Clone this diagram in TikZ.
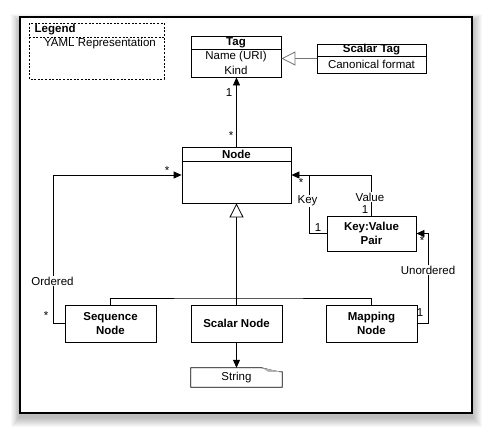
\documentclass[tikz,border=0pt]{standalone}
\usepackage{fontspec}
\setmainfont{Liberation Sans}
\usetikzlibrary{arrows.meta}
\begin{document}
\begin{tikzpicture}[x=1pt,y=-1pt,
  every node/.style={font=\fontsize{11.5}{14}\selectfont, inner sep=0pt},
  box/.style={draw, line width=0.8pt, fill=white, inner sep=0pt},
  hdr/.style={font=\fontsize{11.5}{14}\selectfont\bfseries},
  lbl/.style={font=\fontsize{11.5}{14}\selectfont},
  lblbg/.style={lbl, fill=white, inner sep=1pt},
  assoc/.style={line width=0.8pt, -{Triangle[width=7pt,length=8pt]}},
  gen/.style={line width=0.8pt, -{Triangle[open,width=14pt,length=14pt,fill=white]}},
  divider/.style={line width=0.8pt}
]
\fill[white] (0,0) rectangle (491,437);
\useasboundingbox (0,0) rectangle (491,437);
% shadow
\foreach \i in {1,...,10} {
  \fill[black, opacity=0.028] ({20-\i*0.9},{22-\i*0.8}) rectangle ({472+\i},{417+\i});
}
% frame
\draw[line width=1.2pt, fill=white] (20,17) rectangle (472,413);

% legend
\draw[line width=0.7pt, dash pattern=on 2pt off 1.6pt] (29,23) rectangle (164,79);
\draw[line width=0.7pt, dash pattern=on 2pt off 1.6pt] (29,37) -- (164,37);
\node[hdr, anchor=west] (legt) at (34.5,30) {Legend};
\node[lbl] (legy) at (100,44) {YAML Representation};

% Tag
\node[box, minimum width=90, minimum height=41] (tag) at (236,56.5) {};
\draw[divider] (tag.west |- 0,49) -- (tag.east |- 0,49);
\node[hdr] (tagt) at (236,43) {Tag};
\node[lbl] (tagn) at (236,57) {Name (URI)};
\node[lbl] (tagk) at (236,70) {Kind};

% Scalar Tag
\node[box, minimum width=109, minimum height=29] (stag) at (371.5,58.5) {};
\draw[divider] (stag.west |- 0,56) -- (stag.east |- 0,56);
\node[hdr] (stagt) at (371.5,50) {Scalar Tag};
\node[lbl] (stagc) at (371.5,64.5) {Canonical format};

% Node
\node[box, minimum width=109, minimum height=56] (node) at (236.5,175) {};
\draw[divider] (node.west |- 0,161) -- (node.east |- 0,161);
\node[hdr] (nodet) at (236.5,154) {Node};

% Key:Value Pair
\node[box, minimum width=89, minimum height=35, hdr, align=center] (kv) at (371.5,233.5) {Key:Value\\Pair};

% bottom nodes
\node[box, minimum width=91, minimum height=37, hdr, align=center] (seq) at (110.5,323.5) {Sequence\\Node};
\node[box, minimum width=91, minimum height=37, hdr] (scalar) at (236.5,323.5) {Scalar Node};
\node[box, minimum width=91, minimum height=37, hdr, align=center] (map) at (371.5,323.5) {Mapping\\Node};

% String note
\node[minimum width=91, minimum height=19] (string) at (236.5,377.5) {String};
\draw[line width=0.8pt] (string.north west) -- ++(71,0) .. controls ++(8,2) and ++(-6,0) .. ([yshift=-4]string.north east) -- (string.south east) -- (string.south west) -- cycle;
\fill[gray!60] ([xshift=-20]string.north east) -- ([xshift=-14,yshift=-4]string.north east) -- ([yshift=-4]string.north east) .. controls ++(-6,-1) .. ([xshift=-20]string.north east);

% connectors
\draw[assoc] (node.north) -- (node.north |- tag.south);
\node[lbl] (m1) at (229,93) {1};
\node[lbl] (m2) at (231,136) {*};

\draw[gen, draw=black!55] (stag.west) -- (stag.west -| tag.east);

\draw[gen] (scalar.north) -- (node.south);
\coordinate (bar) at (236.5,298);
\draw[line width=0.8pt] (seq.north) |- (bar) -| (map.north);

\draw[assoc] (scalar.south) -- (string.north);

% Ordered
\coordinate (ordc) at (53,175);
\draw[assoc] (seq.west) -| (ordc) -- (node.west);
\node[lblbg] (ordl) at (52.5,281) {Ordered};
\node[lbl] (o1) at (167,171) {*};
\node[lbl] (o2) at (46,316) {*};

% Key / Value
\coordinate (keyc) at (309,175);
\draw[assoc] (kv.west) -| (keyc) -- (node.east);
\draw[line width=0.8pt] (kv.north) |- (keyc);
\node[lbl] (k1) at (301,183) {*};
\node[lblbg] (keyl) at (307.5,201) {Key};
\node[lblbg] (vall) at (370,197) {Value};
\node[lbl] (v1) at (365,210) {1};
\node[lbl] (k2) at (318,228) {1};

% Unordered
\coordinate (unc) at (428,233.5);
\draw[assoc] (map.east) -| (unc) -- (kv.east);
\node[lblbg] (unl) at (428,270) {Unordered};
\node[lbl] (u1) at (422,241) {*};
\node[lbl] (u2) at (420,313) {1};
\end{tikzpicture}
\end{document}
